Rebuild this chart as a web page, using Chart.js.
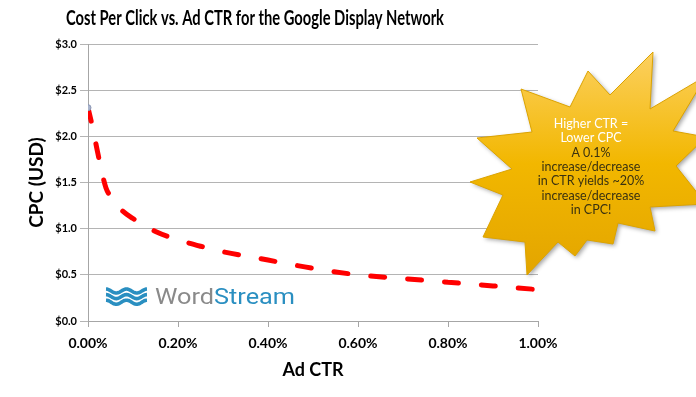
<!DOCTYPE html>
<html>
<head>
<meta charset="utf-8">
<script src="https://cdn.jsdelivr.net/npm/chart.js"></script>
<style>
  body { margin: 0; background: #fff; }
  #wrap { width: 696px; height: 397px; }
</style>
</head>
<body>
<div id="wrap"><canvas id="cpcChart"></canvas></div>
<script>
// Ad CTR (%) and CPC (USD)
const ctrValues = [0, 0.01, 0.02, 0.03, 0.04, 0.05, 0.075, 0.1, 0.15, 0.2, 0.25, 0.3, 0.4, 0.5, 0.6, 0.7, 0.8, 0.9, 1.0];
const cpcValues = [2.31, 2.10, 1.86, 1.63, 1.44, 1.35, 1.20, 1.11, 0.97, 0.88, 0.81, 0.75, 0.66, 0.57, 0.50, 0.46, 0.42, 0.38, 0.34];

const chartTitle = 'Cost Per Click vs. Ad CTR for the Google Display Network';
const xTitle = 'Ad CTR';
const yTitle = 'CPC (USD)';
const calloutWhite = ['Higher CTR =', 'Lower CPC'];
const calloutDark = ['A 0.1%', 'increase/decrease', 'in CTR yields ~20%', 'increase/decrease', 'in CPC!'];

const FONT = 'Lato, "Open Sans", sans-serif';

const points = ctrValues.map((x, i) => ({ x: x, y: cpcValues[i] }));

// star outline for the callout (decoration only)
const starShape = [
  [653, 52], [650, 109], [706, 76], [673, 131], [706, 137], [676, 166], [706, 204],
  [650, 207], [655, 231], [618, 223], [613, 244], [587, 240], [575, 256], [558, 242],
  [527, 275], [525, 242], [483, 237], [503, 195], [470, 182], [512, 169], [477, 138],
  [532, 132], [521, 89], [570, 107], [588, 71], [610, 95]
];

// draw text squeezed to a given width (the original uses a narrow face)
function fitText(ctx, text, cx, cy, width) {
  const w = ctx.measureText(text).width;
  ctx.save();
  ctx.translate(cx, cy);
  ctx.scale(width / w, 1);
  ctx.fillText(text, 0, 0);
  ctx.restore();
}

const extras = {
  id: 'extras',
  afterDraw(chart) {
    const ctx = chart.ctx;
    ctx.save();

    // title
    ctx.fillStyle = '#000';
    ctx.font = 'bold 20px ' + FONT;
    ctx.textAlign = 'center';
    ctx.textBaseline = 'middle';
    fitText(ctx, chartTitle, 255, 19, 378);

    // wordstream logo
    ctx.strokeStyle = '#2a8fc1';
    ctx.lineWidth = 3.6;
    for (let i = 0; i < 3; i++) {
      const y0 = 291 + i * 5.6;
      ctx.beginPath();
      for (let x = 106; x <= 147; x += 0.5) {
        const y = y0 - 2 * Math.cos((x - 106) / 41 * Math.PI * 4);
        if (x === 106) ctx.moveTo(x, y); else ctx.lineTo(x, y);
      }
      ctx.stroke();
    }
    ctx.font = '22px Roboto, "Open Sans", sans-serif';
    ctx.textAlign = 'left';
    ctx.textBaseline = 'alphabetic';
    const wWord = ctx.measureText('Word').width;
    const wAll = ctx.measureText('WordStream').width;
    ctx.save();
    ctx.translate(155, 304);
    ctx.scale(140 / wAll, 1);
    ctx.fillStyle = '#8a8a8a';
    ctx.fillText('Word', 0, 0);
    ctx.fillStyle = '#2a8fc1';
    ctx.fillText('Stream', wWord, 0);
    ctx.restore();

    // star callout
    ctx.beginPath();
    starShape.forEach((p, i) => i === 0 ? ctx.moveTo(p[0], p[1]) : ctx.lineTo(p[0], p[1]));
    ctx.closePath();
    const grad = ctx.createLinearGradient(0, 52, 0, 275);
    grad.addColorStop(0, '#fcd060');
    grad.addColorStop(0.5, '#f2b700');
    grad.addColorStop(1, '#e3a500');
    ctx.shadowColor = 'rgba(0,0,0,0.35)';
    ctx.shadowBlur = 4;
    ctx.shadowOffsetX = 2;
    ctx.shadowOffsetY = 2;
    ctx.fillStyle = grad;
    ctx.fill();
    ctx.shadowColor = 'transparent';
    ctx.strokeStyle = '#dca300';
    ctx.lineWidth = 1;
    ctx.stroke();

    ctx.font = '12.5px ' + FONT;
    ctx.textAlign = 'center';
    ctx.textBaseline = 'middle';
    let y = 124;
    calloutWhite.forEach(t => { ctx.fillStyle = '#fff'; ctx.fillText(t, 591, y); y += 14.3; });
    calloutDark.forEach(t => { ctx.fillStyle = '#3a3210'; ctx.fillText(t, 591, y); y += 14.3; });

    ctx.restore();
  }
};

new Chart(document.getElementById('cpcChart'), {
  type: 'line',
  data: {
    datasets: [{
      data: points,
      borderColor: '#ff0000',
      borderWidth: 5,
      borderDash: [14, 23],
      borderCapStyle: 'round',
      cubicInterpolationMode: 'monotone',
      fill: false,
      pointRadius: points.map((p, i) => i === 0 ? 3 : 0),
      pointBackgroundColor: '#a9b4cc',
      pointBorderColor: '#8a97b5',
      pointBorderWidth: 1
    }]
  },
  options: {
    responsive: true,
    maintainAspectRatio: false,
    animation: false,
    layout: { padding: { top: 44, right: 158, left: 22, bottom: 0 } },
    plugins: {
      legend: { display: false },
      tooltip: { enabled: false }
    },
    scales: {
      x: {
        type: 'linear',
        min: 0,
        max: 1,
        afterFit: s => { s.height = 76; },
        ticks: {
          stepSize: 0.2,
          padding: 8,
          color: '#000',
          font: { family: FONT, size: 14, weight: 'bold' },
          callback: v => v.toFixed(2) + '%'
        },
        grid: { drawOnChartArea: false, tickLength: 6, color: '#a6a6a6' },
        border: { color: '#a6a6a6' },
        title: {
          display: true,
          text: xTitle,
          color: '#000',
          font: { family: FONT, size: 18, weight: 'bold' },
          padding: { top: 4, bottom: 16 }
        }
      },
      y: {
        min: 0,
        max: 3,
        afterFit: s => { s.width = 66; },
        ticks: {
          stepSize: 0.5,
          padding: 3,
          color: '#000',
          font: { family: FONT, size: 11, weight: 'bold' },
          callback: v => '$' + v.toFixed(1)
        },
        grid: { color: '#b4b4b4', tickLength: 8 },
        border: { color: '#a6a6a6' },
        title: {
          display: true,
          text: yTitle,
          color: '#000',
          font: { family: FONT, size: 19, weight: 'bold' },
          padding: { top: 3, bottom: 0 }
        }
      }
    }
  },
  plugins: [extras]
});
</script>
</body>
</html>
